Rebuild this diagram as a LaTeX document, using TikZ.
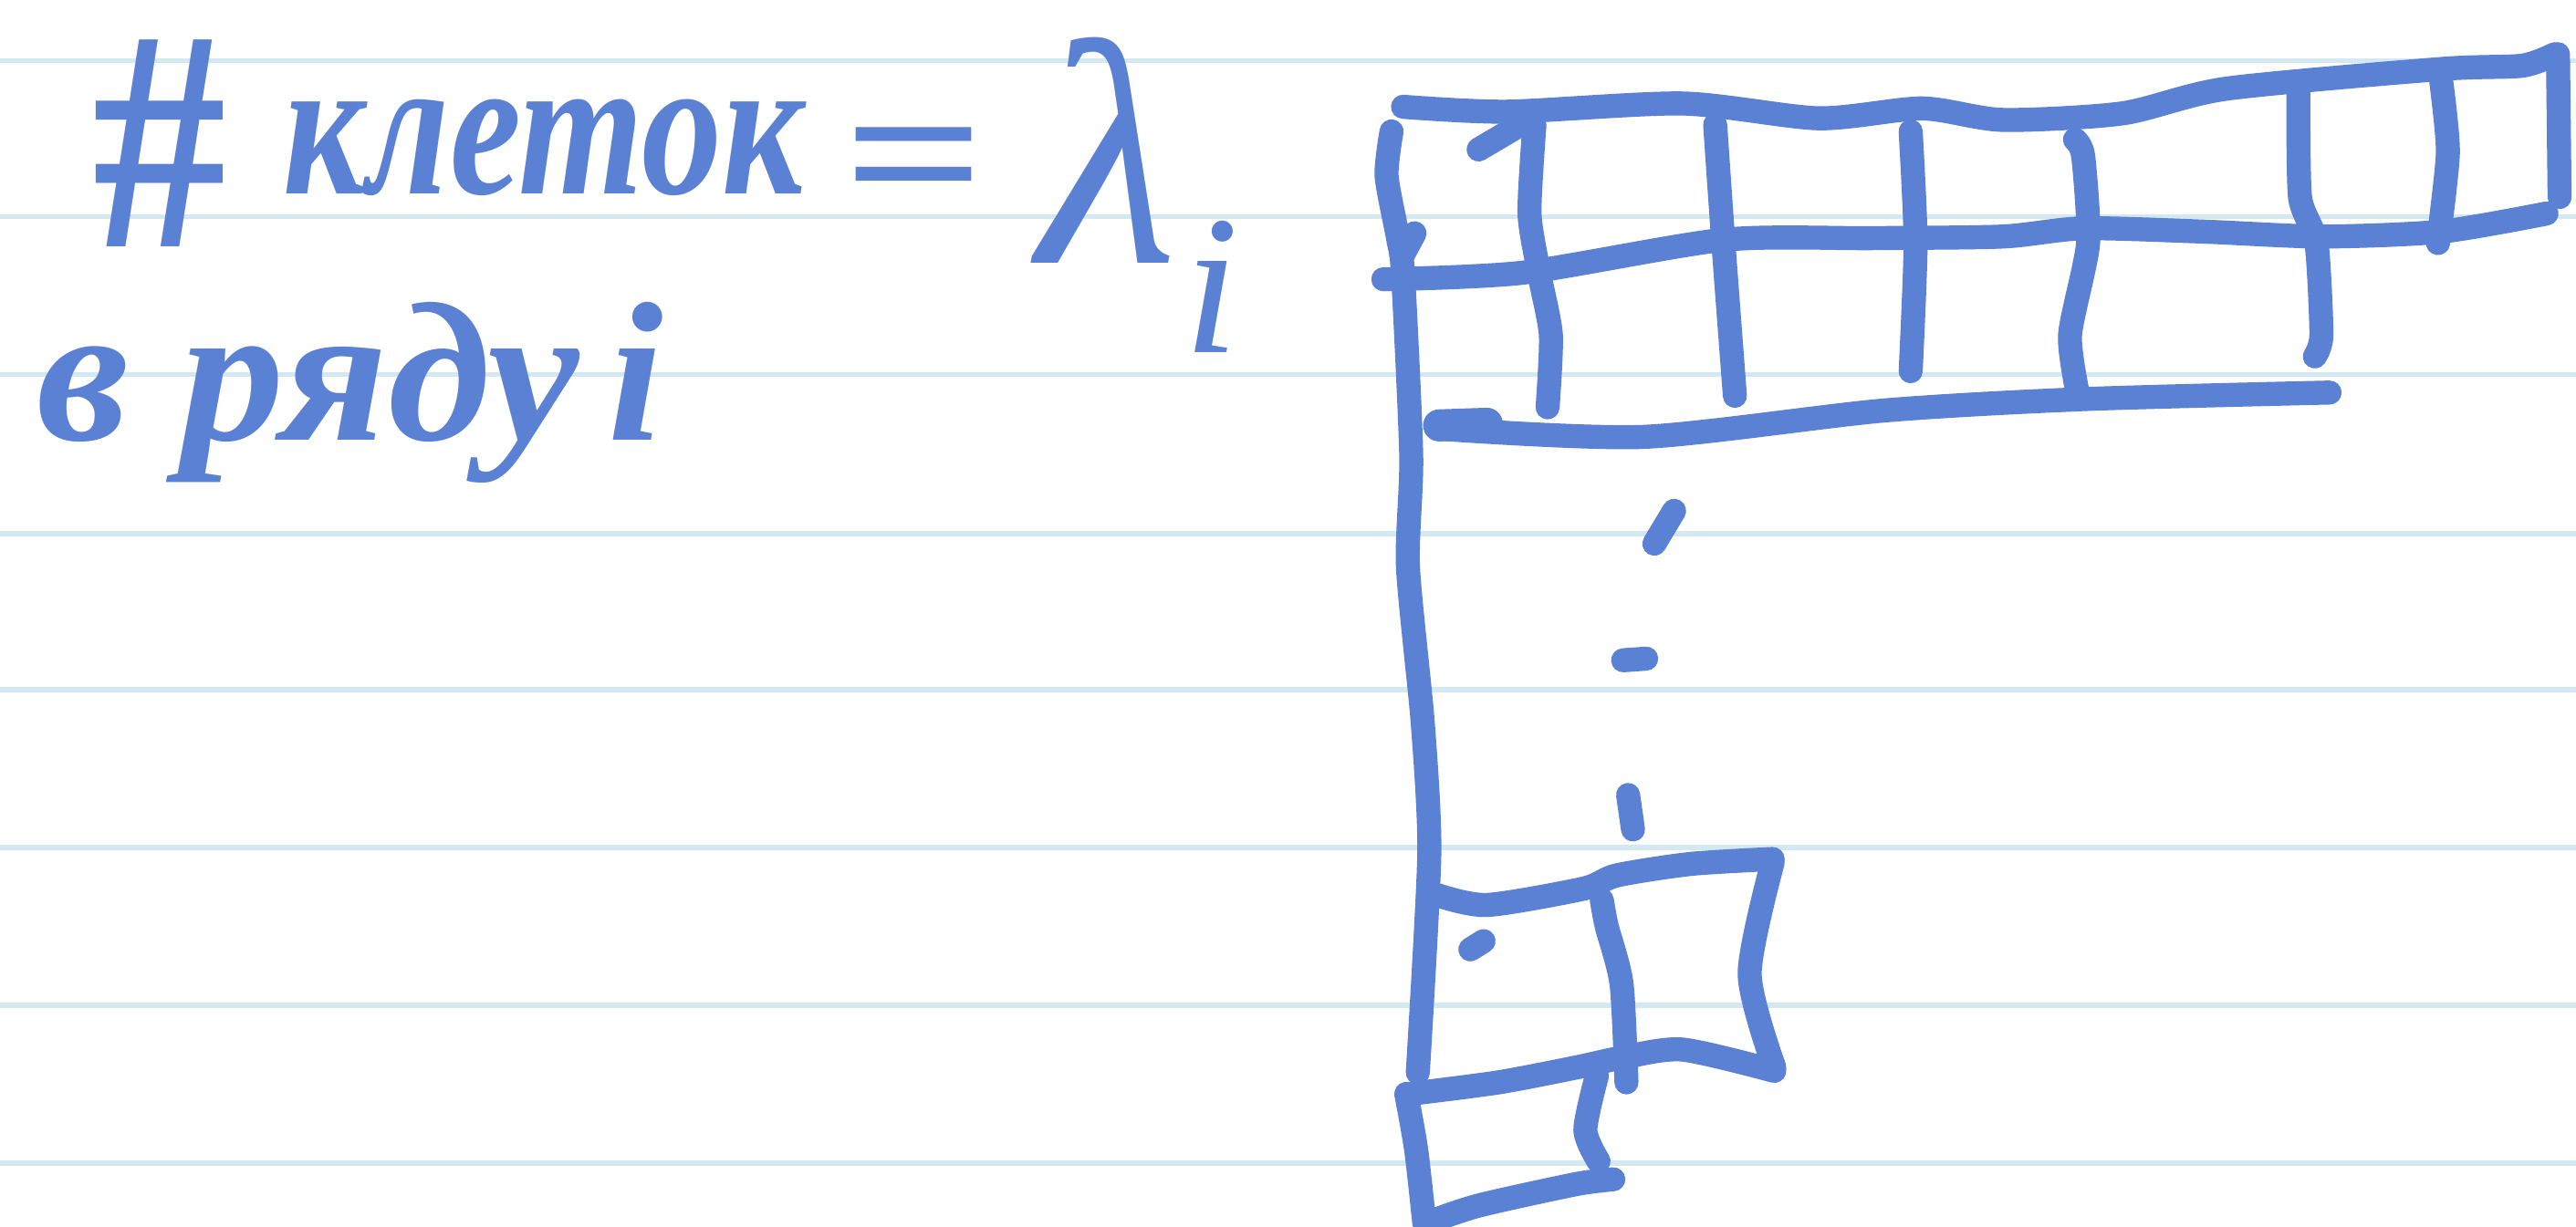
\documentclass[tikz,border=0pt]{standalone}
\usepackage{graphicx}
\usepackage{fontspec}
\setmainfont{Liberation Serif}
\definecolor{ink}{HTML}{5B81D4}
\definecolor{rulecol}{HTML}{D4E8F1}
\begin{document}
\begin{tikzpicture}[x=0.018004cm,y=-0.018004cm,
  pen/.style={draw=ink,line width=7.5pt,line cap=round,line join=round},
  ruling/.style={draw=rulecol,line width=1.6pt},
  txt/.style={text=ink,inner sep=0pt,font=\fontsize{62}{70}\selectfont\bfseries\itshape}]
\fill[white] (0,0) rectangle (1568,747);
\useasboundingbox (0,0) rectangle (1568,747);
\foreach \y in {37,132,228,325,420,516,612,708} \draw[ruling] (0,\y) -- (1568,\y);

% text
\node[txt,font=\fontsize{88}{90}\selectfont\bfseries,anchor=base west] (hash) at (56,150) {\scalebox{0.95}[1.12]{\#}};
\node[txt,font=\fontsize{50}{60}\selectfont\bfseries\itshape,anchor=base west] (kletok) at (172,118) {\scalebox{1}[1.25]{клеток}};
\node[txt,anchor=base west] (eq) at (512,134) {\scalebox{1.25}[1]{=}};
\node[txt,font=\fontsize{100}{100}\selectfont\itshape,anchor=base west] (lam) at (632,160) {λ\hspace{0.02em}\raisebox{-0.28em}{\fontsize{62}{62}\selectfont i}};
\node[txt,anchor=base west] (vrjadu) at (22,268) {\scalebox{1.04}[1]{в ряду}};
\node[txt,anchor=base west] (irow) at (370,268) {i};

% first row of cells
\draw[pen] plot[smooth,tension=0.45] coordinates {(854,65) (917,68) (1024,63) (1107,72) (1170,66) (1219,73) (1292,69) (1355,54) (1486,42) (1535,40) (1555,33)};
\draw[pen] (1557,33) -- (1558,120);
\draw[pen] plot[smooth,tension=0.45] coordinates {(842,170) (927,166) (1049,146) (1140,145) (1219,144) (1268,139) (1341,141) (1413,144) (1486,141) (1550,130)};
\draw[pen] plot[smooth,tension=0.4] coordinates {(847,80) (844,107) (851,145) (854,167) (859,278) (857,345) (866,440) (870,520) (863,653)};
\draw[pen] (861,142) -- (854,155);
\draw[pen] (900,91) -- (922,78);
\draw[pen] plot[smooth,tension=0.4] coordinates {(934,76) (931,130) (937,167) (944,204) (942,248)};
\draw[pen] plot[smooth,tension=0.4] coordinates {(1044,76) (1049,148) (1056,241)};
\draw[pen] plot[smooth,tension=0.4] coordinates {(1163,80) (1166,148) (1163,226)};
\draw[pen] plot[smooth,tension=0.4] coordinates {(1263,85) (1268,95) (1271,148) (1260,204) (1265,241)};
\draw[pen] plot[smooth,tension=0.4] coordinates {(1399,56) (1400,120) (1410,148) (1413,204) (1409,217)};
\draw[pen] plot[smooth,tension=0.4] coordinates {(1486,50) (1490,93) (1484,148)};
\draw[pen] plot[smooth,tension=0.45] coordinates {(876,261) (1000,266) (1146,250) (1268,243) (1418,239)};
\draw[pen,line width=10pt] (876,259) -- (905,258);

% dots
\draw[pen] (1007,331) -- (1019,311);
\draw[pen] (988,402) -- (1002,401);
\draw[pen] (991,484) -- (994,505);
\draw[pen] (895,578) -- (903,573);

% lower cells
\draw[pen] plot[smooth,tension=0.45] coordinates {(875,545) (905,551) (964,541) (984,533) (1029,526) (1079,523)};
\draw[pen] plot[smooth,tension=0.45] coordinates {(1079,525) (1065,593) (1080,650)};
\draw[pen] plot[smooth,tension=0.45] coordinates {(1080,652) (1024,639) (987,644) (959,650) (912,659) (858,666)};
\draw[pen] plot[smooth,tension=0.45] coordinates {(975,548) (978,564) (987,599) (990,659)};
\draw[pen] plot[smooth,tension=0.45] coordinates {(856,666) (862,700) (867,745)};
\draw[pen] plot[smooth,tension=0.45] coordinates {(870,744) (900,734) (959,721) (982,718)};
\draw[pen] plot[smooth,tension=0.45] coordinates {(972,655) (965,688) (973,707)};
\end{tikzpicture}
\end{document}
